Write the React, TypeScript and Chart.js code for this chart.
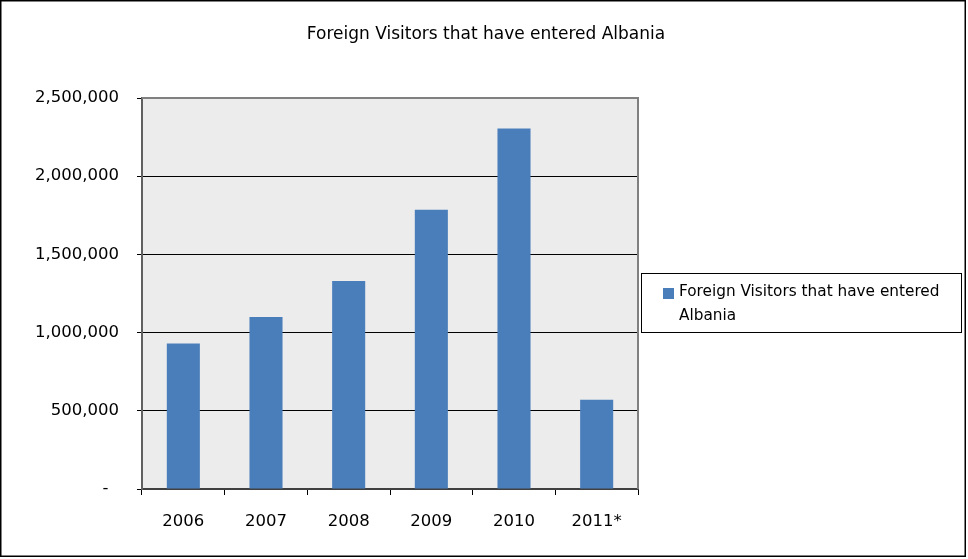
import React, { useEffect, useRef } from "react";
import { Chart, registerables } from "chart.js";

Chart.register(...registerables);

const chartTitle = "Foreign Visitors that have entered Albania";
const seriesLabel = "Foreign Visitors that have entered Albania";
const legendLines = ["Foreign Visitors that have entered", "Albania"];
const categories = ["2006", "2007", "2008", "2009", "2010", "2011*"];
const visitors = [930000, 1100000, 1330000, 1785000, 2305000, 570000];
const yMax = 2500000;
const yStep = 500000;

const FONT = "'DejaVu Sans', sans-serif";

export default function App() {
  const ref = useRef<HTMLCanvasElement | null>(null);

  useEffect(() => {
    if (!ref.current) return;
    const decor = {
      id: "decor",
      beforeDraw(chart: any) {
        const { ctx, chartArea: a } = chart;
        ctx.save();
        ctx.fillStyle = "#ffffff";
        ctx.fillRect(0, 0, chart.width, chart.height);
        ctx.fillStyle = "#ECECEC";
        ctx.fillRect(a.left, a.top, a.right - a.left, a.bottom - a.top);
        ctx.restore();
      },
      afterDraw(chart: any) {
        const { ctx, chartArea: a } = chart;
        ctx.save();
        // plot border top & right
        ctx.strokeStyle = "#808080";
        ctx.lineWidth = 2;
        ctx.beginPath();
        ctx.moveTo(a.left, a.top);
        ctx.lineTo(a.right, a.top);
        ctx.lineTo(a.right, a.bottom);
        ctx.stroke();
        // outer border
        ctx.strokeStyle = "#000000";
        ctx.lineWidth = 1.5;
        ctx.strokeRect(0.75, 0.75, 964.5, 555.5);
        // title
        ctx.fillStyle = "#000000";
        ctx.font = `17px ${FONT}`;
        ctx.textAlign = "center";
        ctx.textBaseline = "middle";
        ctx.fillText(chartTitle, 486, 35);
        // legend
        const bx = 641, by = 273, bw = 320, bh = 59;
        ctx.lineWidth = 1;
        ctx.strokeStyle = "#000000";
        ctx.strokeRect(bx + 0.5, by + 0.5, bw, bh);
        const ds = chart.data.datasets[0];
        ctx.fillStyle = ds.backgroundColor;
        ctx.fillRect(663, 288, 11, 11);
        ctx.fillStyle = "#000000";
        ctx.font = `15.3px ${FONT}`;
        ctx.textAlign = "left";
        ctx.textBaseline = "middle";
        ctx.fillText(legendLines[0], 679, 292);
        ctx.fillText(legendLines[1], 679, 316);
        ctx.restore();
      },
    };

    const chart = new Chart(ref.current, {
      type: "bar",
      data: {
        labels: categories,
        datasets: [
          {
            label: seriesLabel,
            data: visitors,
            backgroundColor: "#4A7EBB",
            barPercentage: 0.4,
            categoryPercentage: 1,
          },
        ],
      },
      plugins: [decor],
      options: {
        responsive: false,
        animation: false,
        layout: { padding: { top: 98, right: 330, left: 0, bottom: 0 } },
        plugins: {
          legend: { display: false },
          title: { display: false },
          tooltip: { enabled: false },
        },
        scales: {
          x: {
            grid: {
              display: true,
              drawOnChartArea: false,
              drawTicks: true,
              tickLength: 6,
              color: "#000000",
              offset: true,
            },
            border: { display: true, color: "#404040", width: 2 },
            ticks: {
              color: "#000000",
              font: { family: FONT, size: 16.5 },
              padding: 17,
            },
            afterFit: (s: any) => {
              s.height = 70;
            },
          },
          y: {
            min: 0,
            max: yMax,
            grid: {
              color: (c: any) =>
                c.tick && c.tick.value === yMax ? "#808080" : "#000000",
              tickColor: "#000000",
              tickLength: 5,
              lineWidth: 1,
            },
            border: { display: true, color: "#606060", width: 2 },
            ticks: {
              stepSize: yStep,
              color: "#000000",
              font: { family: FONT, size: 16.5 },
              padding: 18,
              callback: (v: any) =>
                Number(v) === 0 ? "-  " : Number(v).toLocaleString("en-US"),
            },
            afterFit: (s: any) => {
              s.width = 142;
            },
          },
        },
      },
    });
    return () => chart.destroy();
  }, []);

  return (
    <div style={{ position: "absolute", left: 0, top: 0, width: 968, height: 559 }}>
      <canvas ref={ref} width={968} height={559} />
    </div>
  );
}
